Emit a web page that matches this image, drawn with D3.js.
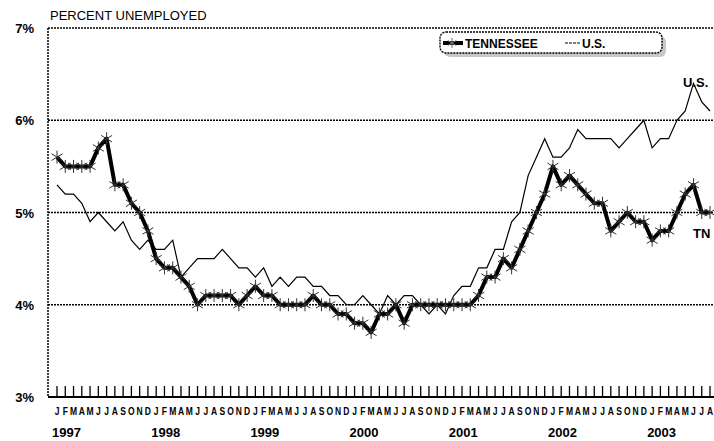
<!DOCTYPE html>
<html>
<head>
<meta charset="utf-8">
<script src="https://cdn.jsdelivr.net/npm/d3@7"></script>
<style>
  body { margin: 0; background: #fff; }
  text { font-family: "Liberation Sans", Arial, sans-serif; }
</style>
</head>
<body>
<script>
const WIDTH = 714;
const HEIGHT = 441;

// monthly rates, Jan 1997 - Aug 2003
var tennessee = [
    5.6, 5.5, 5.5, 5.5, 5.5, 5.7, 5.8, 5.3, 5.3, 5.1, 5.0, 4.8,
    4.5, 4.4, 4.4, 4.3, 4.2, 4.0, 4.1, 4.1, 4.1, 4.1, 4.0, 4.1,
    4.2, 4.1, 4.1, 4.0, 4.0, 4.0, 4.0, 4.1, 4.0, 4.0, 3.9, 3.9,
    3.8, 3.8, 3.7, 3.9, 3.9, 4.0, 3.8, 4.0, 4.0, 4.0, 4.0, 4.0,
    4.0, 4.0, 4.0, 4.1, 4.3, 4.3, 4.5, 4.4, 4.6, 4.8, 5.0, 5.2,
    5.5, 5.3, 5.4, 5.3, 5.2, 5.1, 5.1, 4.8, 4.9, 5.0, 4.9, 4.9,
    4.7, 4.8, 4.8, 5.0, 5.2, 5.3, 5.0, 5.0
];
var us = [
    5.3, 5.2, 5.2, 5.1, 4.9, 5.0, 4.9, 4.8, 4.9, 4.7, 4.6, 4.7,
    4.6, 4.6, 4.7, 4.3, 4.4, 4.5, 4.5, 4.5, 4.6, 4.5, 4.4, 4.4,
    4.3, 4.4, 4.2, 4.3, 4.2, 4.3, 4.3, 4.2, 4.2, 4.1, 4.1, 4.0,
    4.0, 4.1, 4.0, 3.9, 4.1, 4.0, 4.1, 4.1, 4.0, 3.9, 4.0, 3.9,
    4.1, 4.2, 4.2, 4.4, 4.4, 4.6, 4.6, 4.9, 5.0, 5.4, 5.6, 5.8,
    5.6, 5.6, 5.7, 5.9, 5.8, 5.8, 5.8, 5.8, 5.7, 5.8, 5.9, 6.0,
    5.7, 5.8, 5.8, 6.0, 6.1, 6.4, 6.2, 6.1
];
var monthLetters = ["J", "F", "M", "A", "M", "J", "J", "A", "S", "O", "N", "D"];
var years = ["1997", "1998", "1999", "2000", "2001", "2002", "2003"];
var yTicks = [3, 4, 5, 6, 7];

var svg = d3.select('body').append('svg')
    .attr("width", WIDTH)
    .attr("height", HEIGHT);

var x = d3.scalePoint()
    .domain(d3.range(tennessee.length))
    .range([57, 710]);
var y = d3.scaleLinear()
    .domain([3, 7])
    .range([397, 28]);

// title
svg.append("text")
    .attr("x", 50).attr("y", 20)
    .attr("font-size", 13)
    .text("PERCENT UNEMPLOYED");

// dotted gridlines (top one doubles as the frame)
svg.selectAll(".grid")
    .data(yTicks.filter(d => d > 3))
    .enter().append("line")
    .attr("x1", 48).attr("x2", WIDTH)
    .attr("y1", d => y(d)).attr("y2", d => y(d))
    .attr("stroke", "#000")
    .attr("stroke-width", 1.5)
    .attr("stroke-dasharray", "2,1");

// left axis, dotted
svg.append("line")
    .attr("x1", 48).attr("x2", 48)
    .attr("y1", y(7)).attr("y2", y(3))
    .attr("stroke", "#000")
    .attr("stroke-width", 1.5)
    .attr("stroke-dasharray", "2,1");

// y labels
svg.selectAll(".ylab")
    .data(yTicks)
    .enter().append("text")
    .attr("x", 34)
    .attr("y", d => y(d) + 5)
    .attr("text-anchor", "end")
    .attr("font-size", 13)
    .attr("font-weight", "bold")
    .text(d => d + "%");

// bottom axis with inward month ticks
svg.append("line")
    .attr("x1", 48).attr("x2", WIDTH)
    .attr("y1", y(3)).attr("y2", y(3))
    .attr("stroke", "#000")
    .attr("stroke-width", 2);

svg.selectAll(".tick")
    .data(d3.range(tennessee.length))
    .enter().append("line")
    .attr("x1", d => x(d)).attr("x2", d => x(d))
    .attr("y1", y(3) - 11).attr("y2", y(3))
    .attr("stroke", "#000")
    .attr("stroke-width", 1.3);

svg.selectAll(".month")
    .data(d3.range(tennessee.length))
    .enter().append("text")
    .attr("x", d => x(d))
    .attr("y", 415)
    .attr("text-anchor", "middle")
    .attr("font-size", 10)
    .attr("font-weight", "bold")
    .attr("transform", d => "translate(" + x(d) + ",0) scale(0.85,1) translate(" + (-x(d)) + ",0)")
    .text(d => monthLetters[d % 12]);

svg.selectAll(".year")
    .data(years)
    .enter().append("text")
    .attr("x", (d, i) => x(i * 12) - 5)
    .attr("y", 437)
    .attr("font-size", 13)
    .attr("font-weight", "bold")
    .text(d => d);

// series
var line = d3.line()
    .x((d, i) => x(i))
    .y(d => y(d));

svg.append("path")
    .datum(us)
    .attr("d", line)
    .attr("fill", "none")
    .attr("stroke", "#000")
    .attr("stroke-width", 1.2);

// asterisk marker: vertical stroke plus an X
function star(cx, cy, r) {
    let k = r * 0.85;
    return "M" + cx + "," + (cy - r) + "V" + (cy + r) +
        "M" + (cx - k) + "," + (cy - k * 0.6) + "L" + (cx + k) + "," + (cy + k * 0.6) +
        "M" + (cx - k) + "," + (cy + k * 0.6) + "L" + (cx + k) + "," + (cy - k * 0.6);
}

svg.append("path")
    .datum(tennessee)
    .attr("d", line)
    .attr("fill", "none")
    .attr("stroke", "#000")
    .attr("stroke-width", 4)
    .attr("stroke-linejoin", "round");

svg.selectAll(".mark")
    .data(tennessee)
    .enter().append("path")
    .attr("d", (d, i) => star(x(i), y(d), 6.5))
    .attr("stroke", "#333")
    .attr("stroke-width", 1)
    .attr("fill", "none");

// end labels
svg.append("text")
    .attr("x", 683).attr("y", 87)
    .attr("font-size", 13).attr("font-weight", "bold")
    .text("U.S.");
svg.append("text")
    .attr("x", 693).attr("y", 238)
    .attr("font-size", 13).attr("font-weight", "bold")
    .text("TN");

// legend box with shadow
var legend = svg.append("g");
legend.append("rect")
    .attr("x", 444).attr("y", 36)
    .attr("width", 222).attr("height", 21)
    .attr("rx", 6)
    .attr("fill", "#c8c8c8");
legend.append("rect")
    .attr("x", 440).attr("y", 32)
    .attr("width", 222).attr("height", 21)
    .attr("rx", 6)
    .attr("fill", "#fff")
    .attr("stroke", "#000")
    .attr("stroke-width", 1.4)
    .attr("stroke-dasharray", "2,1");
legend.append("line")
    .attr("x1", 443).attr("x2", 463)
    .attr("y1", 43).attr("y2", 43)
    .attr("stroke", "#000").attr("stroke-width", 4);
legend.append("path")
    .attr("d", star(452, 43, 5))
    .attr("stroke", "#777").attr("stroke-width", 1).attr("fill", "none");
legend.append("text")
    .attr("x", 465).attr("y", 48)
    .attr("font-size", 12).attr("font-weight", "bold")
    .text("TENNESSEE");
legend.append("line")
    .attr("x1", 565).attr("x2", 581)
    .attr("y1", 43).attr("y2", 43)
    .attr("stroke", "#000").attr("stroke-width", 1.2)
    .attr("stroke-dasharray", "3,1");
legend.append("text")
    .attr("x", 582).attr("y", 48)
    .attr("font-size", 12).attr("font-weight", "bold")
    .text("U.S.");
</script>
</body>
</html>
